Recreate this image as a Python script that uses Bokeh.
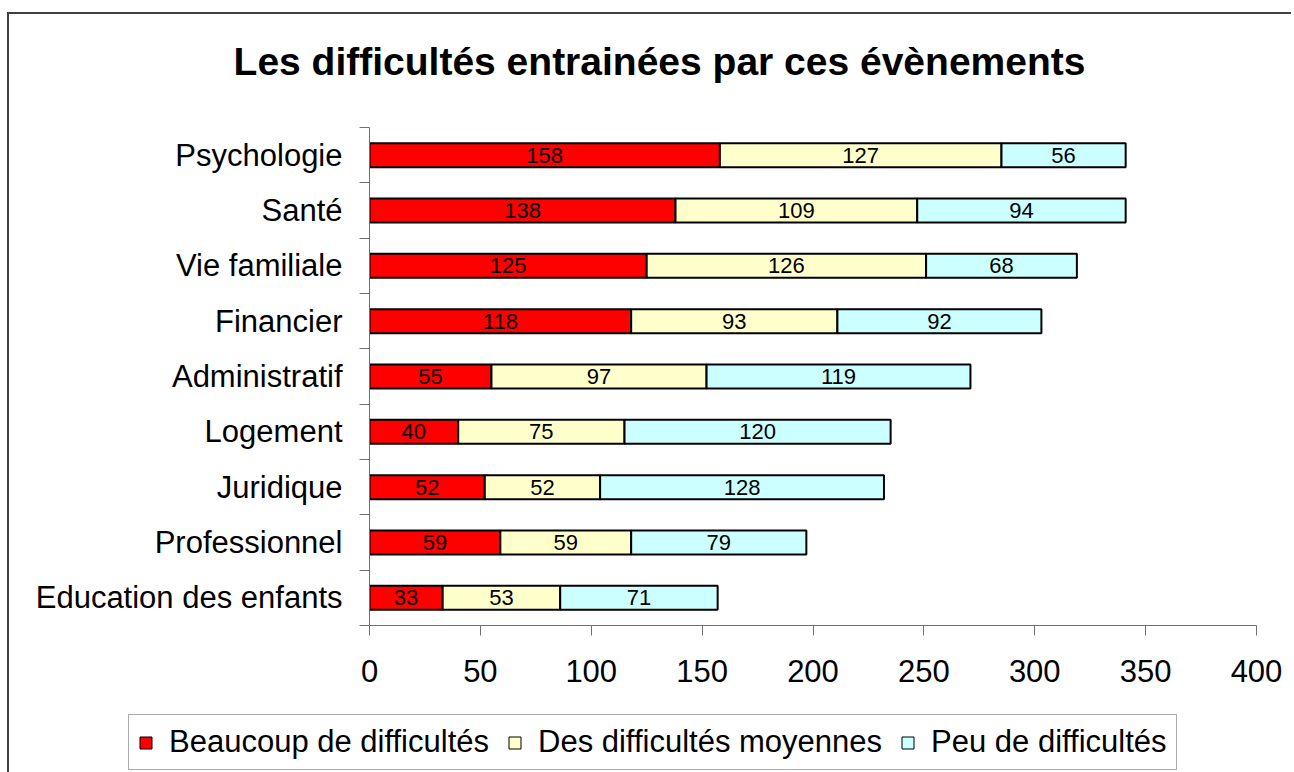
from bokeh.plotting import figure
from bokeh.models import Range1d, FixedTicker, Legend, LegendItem, ColumnDataSource, Label
from bokeh.core.properties import value
from bokeh.embed import file_html
from bokeh.resources import INLINE

categories = ["Psychologie", "Santé", "Vie familiale", "Financier", "Administratif",
              "Logement", "Juridique", "Professionnel", "Education des enfants"]
beaucoup = [158, 138, 125, 118, 55, 40, 52, 59, 33]
moyennes = [127, 109, 126, 93, 97, 75, 52, 59, 53]
peu = [56, 94, 68, 92, 119, 120, 128, 79, 71]
series_names = ["Beaucoup de difficultés", "Des difficultés moyennes", "Peu de difficultés"]
series_colors = ["#FF0000", "#FFFFCC", "#CCFFFF"]
x_ticks = [0, 50, 100, 150, 200, 250, 300, 350, 400]
title_text = "Les difficultés entrainées par ces évènements"

FONT = "Liberation Sans"
W = 1284
n = len(categories)
ypos = [n - i - 0.5 for i in range(n)]

# title strip
p0 = figure(width=W, height=76, output_backend="svg", toolbar_location=None,
            x_range=Range1d(0, W), y_range=Range1d(0, 76),
            x_axis_location=None, y_axis_location=None, min_border=0)
p0.styles = {"margin-left": "7px", "margin-top": "12px",
             "border-top": "2px solid #404040", "border-left": "2px solid #404040"}
p0.outline_line_color = None
p0.xgrid.visible = False
p0.ygrid.visible = False
p0.border_fill_color = "white"
p0.background_fill_color = "white"
p0.add_layout(Label(x=650, y=29, text=title_text, text_align="center", text_baseline="alphabetic",
                    text_font=FONT, text_font_size="39px", text_font_style="bold",
                    text_color="black"))

# main chart
p = figure(width=W, height=626, output_backend="svg", toolbar_location=None,
           x_range=Range1d(0, 400), y_range=Range1d(0, n),
           min_border_left=360, min_border_right=37, min_border_top=39, min_border_bottom=89)
p.styles = {"margin-left": "7px", "border-left": "2px solid #404040"}
p.outline_line_color = None
p.xgrid.visible = False
p.ygrid.visible = False
p.background_fill_color = "white"
p.border_fill_color = "white"

series = [beaucoup, moyennes, peu]
sources = []
left = [0] * n
for vals, name, col in zip(series, series_names, series_colors):
    right = [l + v for l, v in zip(left, vals)]
    src = ColumnDataSource(dict(y=ypos, left=left, right=right,
                                mid=[(l + r) / 2 for l, r in zip(left, right)],
                                lab=[str(v) for v in vals]))
    sources.append(src)
    p.hbar(y="y", left="left", right="right", height=0.434, source=src,
           fill_color=col, line_color="black", line_width=2)
    p.text(x="mid", y="y", text="lab", source=src, text_align="center", text_baseline="middle",
           text_font=value(FONT), text_font_size="22px", text_color="black")
    left = right

# x axis
xa = p.xaxis[0]
xa.ticker = FixedTicker(ticks=x_ticks)
xa.axis_line_color = "#707070"
xa.major_tick_line_color = "#707070"
xa.major_tick_out = 10
xa.major_tick_in = 0
xa.minor_tick_line_color = None
xa.major_label_text_font = FONT
xa.major_label_text_font_size = "31px"
xa.major_label_text_color = "black"
xa.major_label_standoff = 24

# y axis
ya = p.yaxis[0]
ya.ticker = FixedTicker(ticks=ypos, minor_ticks=list(range(n + 1)))
ya.major_label_overrides = {y: c for y, c in zip(ypos, categories)}
ya.axis_line_color = "#707070"
ya.major_tick_line_color = None
ya.major_tick_out = 10
ya.major_tick_in = 0
ya.minor_tick_line_color = "#707070"
ya.minor_tick_out = 10
ya.minor_tick_in = 0
ya.major_label_text_font = FONT
ya.major_label_text_font_size = "31px"
ya.major_label_text_color = "black"
ya.major_label_standoff = 17

# legend strip (proxies reuse the same data, drawn out of view)
p2 = figure(width=W, height=58, output_backend="svg", toolbar_location=None,
            x_range=Range1d(0, 400), y_range=Range1d(100, 101),
            x_axis_location=None, y_axis_location=None, min_border=0)
p2.styles = {"margin-left": "7px", "border-left": "2px solid #404040"}
p2.outline_line_color = None
p2.xgrid.visible = False
p2.ygrid.visible = False
p2.border_fill_color = "white"
p2.background_fill_color = "white"
items = []
for name, col, src in zip(series_names, series_colors, sources):
    r = p2.hbar(y="y", left="left", right="right", height=0.434, source=src,
                fill_color=col, line_color="black", line_width=1)
    items.append(LegendItem(label=name, renderers=[r]))
legend = Legend(items=items, orientation="horizontal", location=(119, 2))
legend.label_text_font = FONT
legend.label_text_font_size = "31px"
legend.label_text_color = "black"
legend.label_standoff = 16
legend.glyph_width = 15
legend.glyph_height = 15
legend.spacing = 18
legend.padding = 9
legend.margin = 0
legend.border_line_color = "#555555"
legend.border_line_width = 1.5
legend.background_fill_color = "white"
legend.background_fill_alpha = 1
p2.add_layout(legend, "center")

open("out.html", "w").write(file_html([p0, p, p2], INLINE))
